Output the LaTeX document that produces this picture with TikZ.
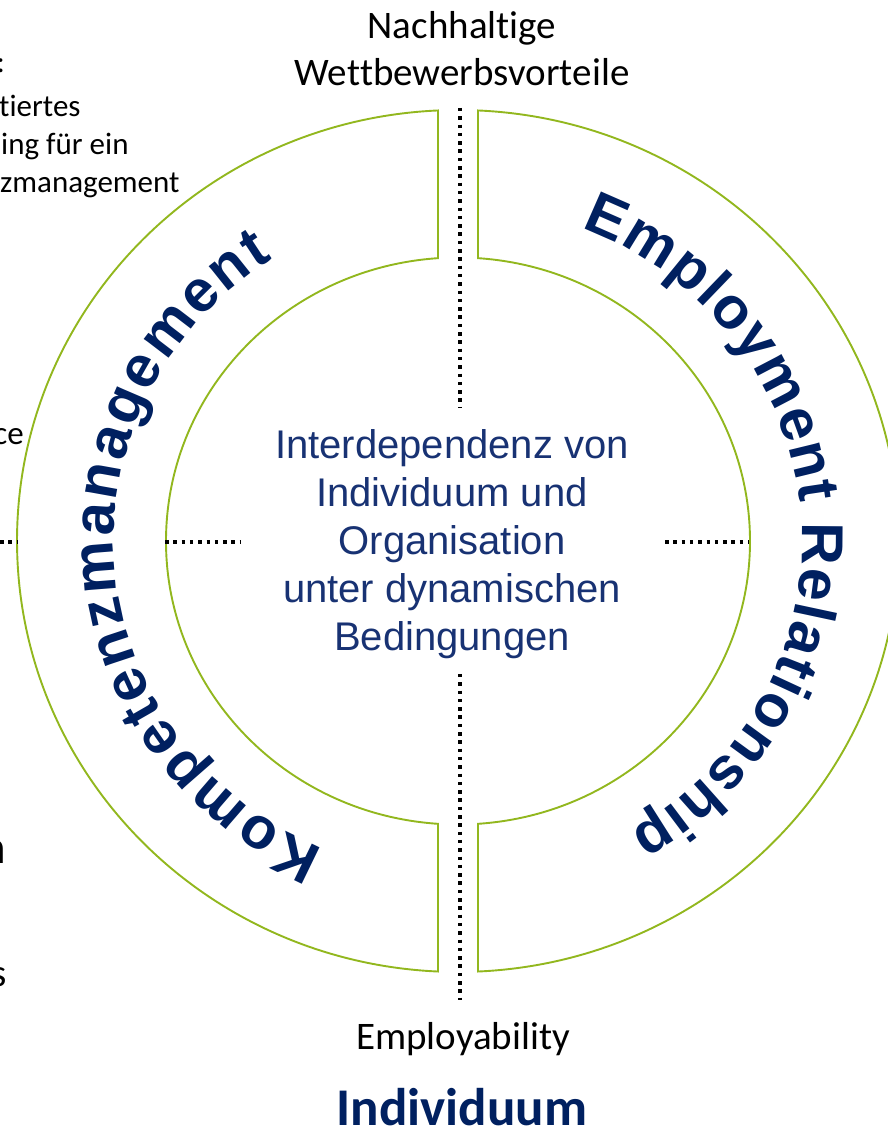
\documentclass[tikz,border=0pt]{standalone}
\usepackage{fontspec}
\setmainfont{Carlito}[Ligatures={NoCommon,NoContextual}, Contextuals={NoAlternate}]
\newfontfamily\arialfont{Liberation Sans}
\usetikzlibrary{decorations.text,calc}
\definecolor{ringgreen}{RGB}{146,183,30}
\definecolor{kblue}{RGB}{0,32,96}
\definecolor{cblue}{RGB}{24,50,115}
\newcommand{\nl}{\kern0pt }
\begin{document}
\begin{tikzpicture}[x=1pt,y=1pt,
  ring/.style={draw=ringgreen, line width=1.9pt, line join=miter},
  dotline/.style={draw=black, line width=3.6pt, dash pattern=on 3.5pt off 4.8pt},
  lbl/.style={inner sep=0pt, anchor=base, font=\fontsize{39}{47}\selectfont},
  sidetxt/.style={inner sep=0pt, anchor=base west, font=\fontsize{31}{38}\selectfont},
  cline/.style={inner sep=0pt, anchor=base, text=cblue, font=\arialfont\fontsize{40}{48}\selectfont},
  curved/.style={decorate, decoration={text along path, text align={fit to path},
     text={|\arialfont\bfseries\fontsize{59}{61}\selectfont\color{kblue}|#1}}}
]
\useasboundingbox (0,0) rectangle (888,1133);
\clip (0,0) rectangle (888,1133);
\coordinate (C) at (458,592);

% ring halves
\draw[ring] ($(C)+(92.6:441 and 431)$) arc[start angle=92.6, end angle=267.4, x radius=441, y radius=431]
  -- ($(C)+(266.07:292 and 283.5)$) arc[start angle=266.07, end angle=93.93, x radius=292, y radius=283.5] -- cycle;
\draw[ring] ($(C)+(87.4:441 and 431)$) arc[start angle=87.4, end angle=-87.4, x radius=441, y radius=431]
  -- ($(C)+(-86.07:292 and 283.5)$) arc[start angle=-86.07, end angle=86.07, x radius=292, y radius=283.5] -- cycle;

% dotted lines
\coordinate (vt1) at (460,1025);
\coordinate (vt2) at (460,725);
\coordinate (vb1) at (460,459);
\coordinate (vb2) at (460,133);
\coordinate (hl1) at (0,591);
\coordinate (hl2) at (17,591);
\coordinate (hl3) at (165,591);
\coordinate (hl4) at (240,591);
\coordinate (hr1) at (665,591);
\coordinate (hr2) at (749,591);
\draw[dotline] (vt1) -- (vt2);
\draw[dotline] (vb1) -- (vb2);
\draw[dotline] (hl1) -- (hl2);
\draw[dotline] (hl3) -- (hl4);
\draw[dotline] (hr1) -- (hr2);

% curved titles
\path[curved=Kompetenzmanagement] ($(C)+(247:344 and 335)$) arc[start angle=247, end angle=122.5, x radius=344, y radius=335];
\path[curved=Employment Relationship] ($(C)+(69:344 and 335)$) arc[start angle=69, end angle=-60, x radius=344, y radius=335];

% center text
\node[cline] (c1) at (452,674) {Interdependenz von};
\node[cline] (c2) at (452,626) {Individuum und};
\node[cline] (c3) at (452,578) {Organisation};
\node[cline] (c4) at (452,530) {unter dynamischen};
\node[cline] (c5) at (452,482) {Bedingungen};

% top / bottom labels
\node[lbl] (top1) at (462,1094) {Nachhalt\nl ige};
\node[lbl] (top2) at (462,1047) {Wet\nl tbewerbsvort\nl eile};
\node[lbl] (emp) at (463,83) {Employability};
\node[lbl, text=kblue, font=\bfseries\fontsize{53}{60}\selectfont] (ind) at (462,8) {Individuum};

% cut-off texts at the left edge
\node[sidetxt, anchor=base east] (s0) at (5,1060) {:};
\node[sidetxt] (s1) at (-1,1016) {t\nl iertes};
\node[sidetxt] (s2) at (1,978) {ing für ein};
\node[sidetxt] (s3) at (0,940) {zmanagement};
\node[sidetxt, anchor=base east, font=\fontsize{33}{40}\selectfont] (s4) at (24,688) {ce};
\node[sidetxt, anchor=base east, font=\bfseries\fontsize{47}{56}\selectfont] (s5) at (6,269) {n};
\node[sidetxt, anchor=base east, font=\fontsize{39}{47}\selectfont] (s6) at (7,146) {s};
\end{tikzpicture}
\end{document}
